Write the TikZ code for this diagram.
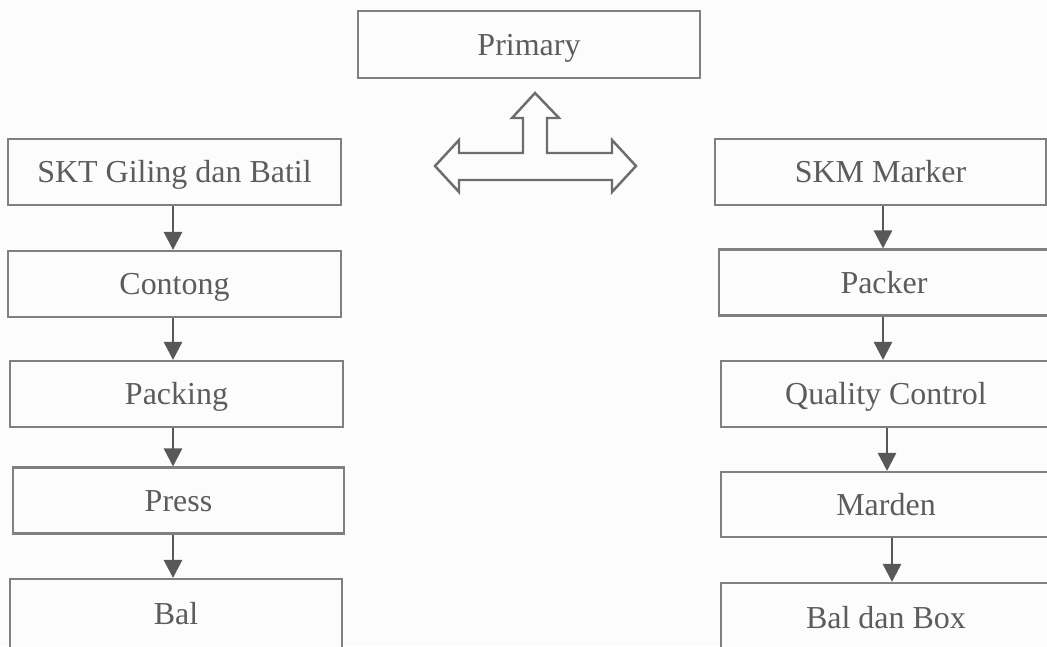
\documentclass[tikz,border=0pt]{standalone}
\usepackage{fontspec}
\setmainfont{Liberation Serif}
\usetikzlibrary{arrows.meta}
\definecolor{paper}{RGB}{252,252,252}
\definecolor{boxline}{RGB}{128,128,128}
\definecolor{boxtext}{RGB}{92,92,92}
\definecolor{flowc}{RGB}{88,88,88}
\tikzset{
  stage/.style={rectangle,draw=boxline,line width=1.2pt,fill=paper,inner sep=0pt,
    minimum height=1.32cm,text height=12pt,text depth=0pt,text=boxtext,
    font=\fontsize{18.2}{22}\selectfont},
  flow/.style={-{Triangle[length=3.6mm,width=3.6mm]},line width=1.5pt,flowc},
  % the three-way arrow under Primary
  tee/.style={draw=boxline!85!black,line width=1.4pt,fill=paper,line join=miter},
}

\begin{document}
\begin{tikzpicture}[x=0.02cm,y=-0.02cm]
  \fill[paper] (0,0) rectangle (1047,646);
  \useasboundingbox (0,0) rectangle (1047,646);
  % top
  \node[stage,minimum width=6.84cm,minimum height=1.34cm] (prim) at (529,44.5){Primary};
  \draw[tee] (535,93) -- (559,118) -- (547,118) -- (547,153) -- (612,153) -- (612,140)
    -- (636,166) -- (612,192) -- (612,180) -- (459,180) -- (459,192) -- (435,166)
    -- (459,140) -- (459,153) -- (523,153) -- (523,118) -- (512,118) -- cycle;
  % left column
  \node[stage,minimum width=6.66cm] (skt) at (174.5,172){SKT Giling dan Batil};
  \node[stage,minimum width=6.66cm] (cont) at (174.5,284){Contong};
  \node[stage,minimum width=6.66cm] (pack) at (176.5,394){Packing};
  \node[stage,minimum width=6.62cm] (press) at (178.5,500.5){Press};
  \node[stage,minimum width=6.64cm,minimum height=1.4cm] (bal) at (176,614){Bal};
  % right column
  \node[stage,minimum width=6.62cm] (skm) at (880.5,172){SKM Marker};
  \node[stage,minimum width=6.6cm] (packer) at (884,282.5){Packer};
  \node[stage,minimum width=6.6cm] (qc) at (886,394){Quality Control};
  \node[stage,minimum width=6.6cm,minimum height=1.3cm] (mard) at (886,504.5){Marden};
  \node[stage,minimum width=6.6cm,minimum height=1.4cm] (bbox) at (886,618){Bal dan Box};
  % flows
  \draw[flow] ([xshift=-0.03cm]skt.south) -- ([xshift=-0.03cm]skt.south |- cont.north);
  \draw[flow] ([xshift=-0.03cm]cont.south) -- ([xshift=-0.03cm]cont.south |- pack.north);
  \draw[flow] ([xshift=-0.07cm]pack.south) -- ([xshift=-0.07cm]pack.south |- press.north);
  \draw[flow] ([xshift=-0.11cm]press.south) -- ([xshift=-0.11cm]press.south |- bal.north);
  \draw[flow] ([xshift=0.05cm]skm.south) -- ([xshift=0.05cm]skm.south |- packer.north);
  \draw[flow] ([xshift=-0.02cm]packer.south) -- ([xshift=-0.02cm]packer.south |- qc.north);
  \draw[flow] ([xshift=0.02cm]qc.south) -- ([xshift=0.02cm]qc.south |- mard.north);
  \draw[flow] ([xshift=0.12cm]mard.south) -- ([xshift=0.12cm]mard.south |- bbox.north);
\end{tikzpicture}
\end{document}
